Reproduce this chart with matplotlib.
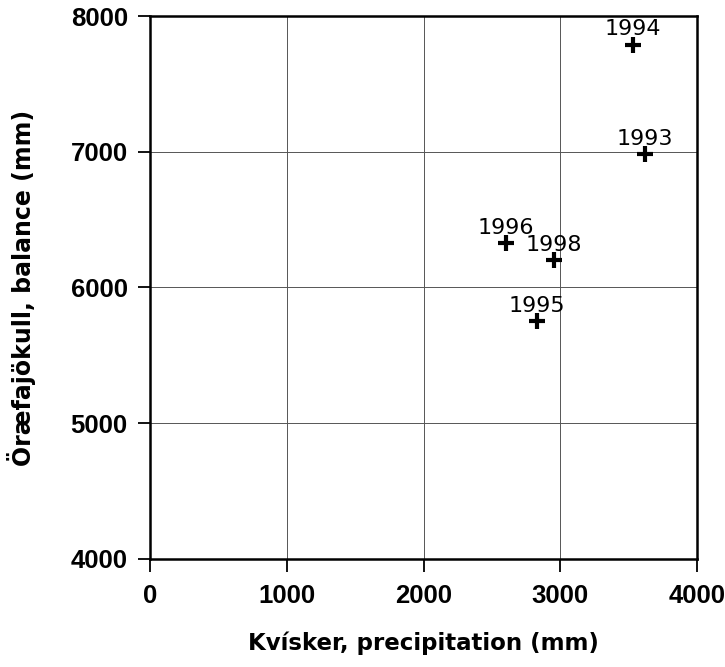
import matplotlib.pyplot as plt
from matplotlib import font_manager

# Kvísker precipitation vs Öræfajökull balance
years = ['1993', '1994', '1995', '1996', '1998']
precip = [3620, 3530, 2830, 2600, 2955]
balance = [6980, 7790, 5750, 6330, 6200]

fams = {f.name for f in font_manager.fontManager.ttflist}
narrow = 'Liberation Sans Narrow' if 'Liberation Sans Narrow' in fams else 'Liberation Sans'
plt.rcParams['font.family'] = ['DejaVu Sans']

fig = plt.figure(figsize=(7.25, 6.67), dpi=100)
ax = fig.add_axes([150 / 725, 1 - 559 / 667, 547 / 725, 543 / 667])

ax.plot(precip, balance, ls='none', marker='+', ms=11, mew=3, color='black', zorder=3)
for yr, x, y in zip(years, precip, balance):
    ax.annotate(yr, (x, y), xytext=(0, 6.5), textcoords='offset points',
                ha='center', va='baseline', fontsize=16, color='black')

ax.set_xlim(0, 4000)
ax.set_ylim(4000, 8000)
ax.set_xticks([0, 1000, 2000, 3000, 4000])
ax.set_yticks([4000, 5000, 6000, 7000, 8000])
ax.grid(True, color='#555555', lw=0.7)
ax.set_axisbelow(True)
for s in ax.spines.values():
    s.set_linewidth(1.8)
ax.tick_params(direction='out', length=9, width=1.3)
ax.tick_params(axis='x', pad=9)
ax.tick_params(axis='y', pad=7)
for lab in ax.get_xticklabels() + ax.get_yticklabels():
    lab.set_fontfamily(narrow)
    lab.set_fontweight('bold')
    lab.set_fontsize(18.5)

ax.set_xlabel('Kvísker, precipitation (mm)', fontsize=16.5, fontweight='bold', labelpad=17)
ax.set_ylabel('Öræfajökull, balance (mm)', fontsize=17, fontweight='bold', labelpad=25)

fig.savefig('out.png', dpi=100)
